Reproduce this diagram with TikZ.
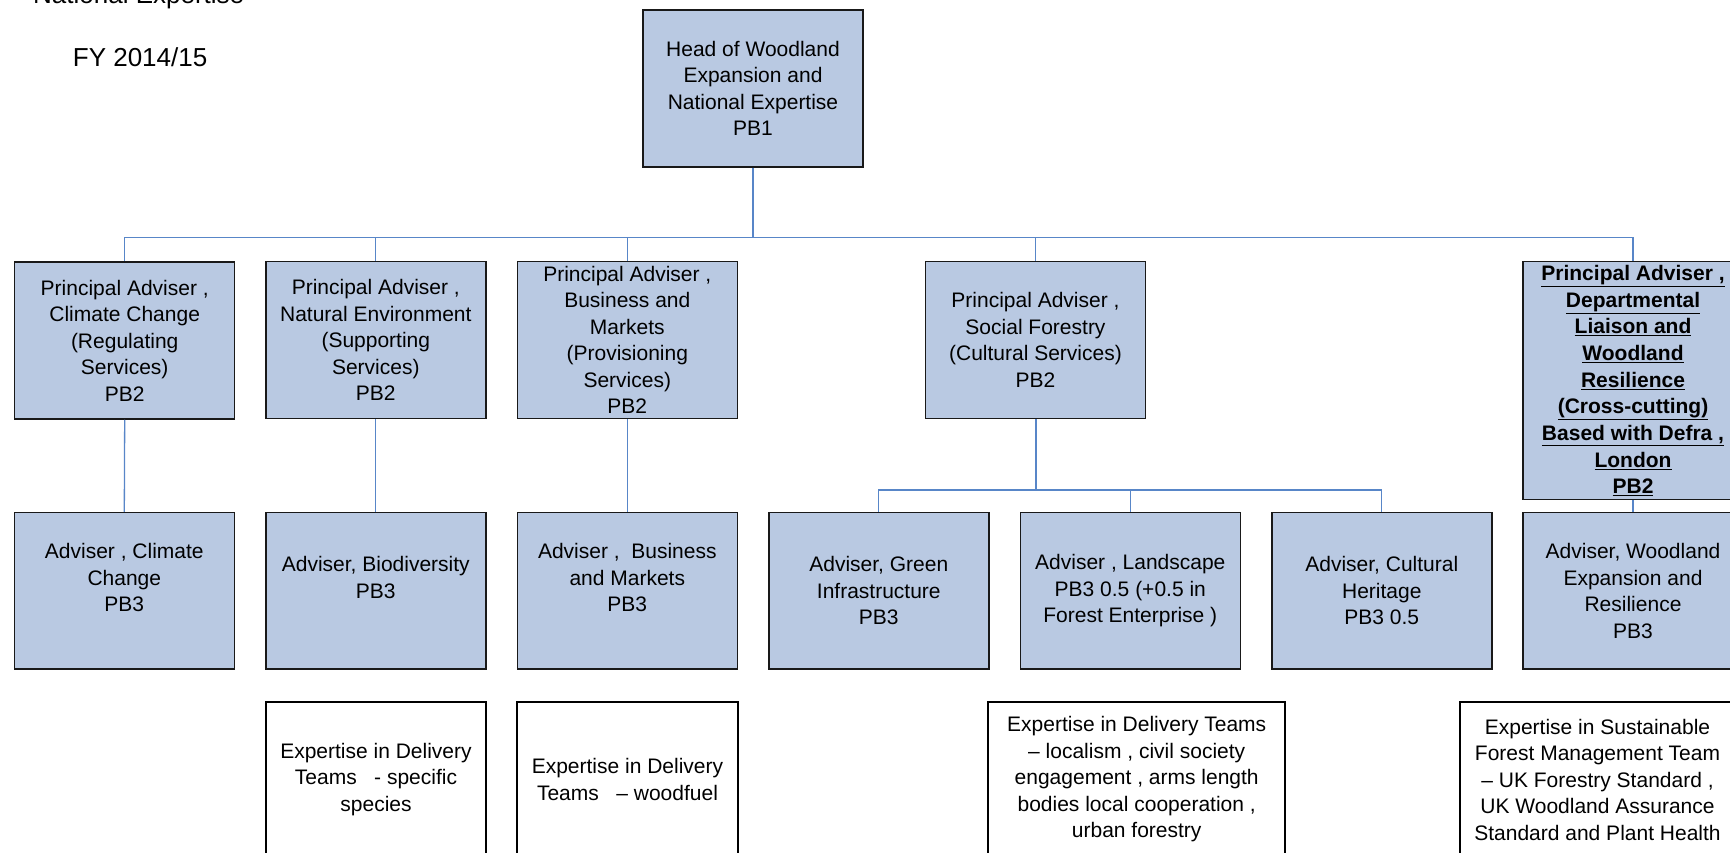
\documentclass[tikz,border=0pt]{standalone}
\usepackage{fontspec}
\setmainfont{Liberation Sans}
\begin{document}
\definecolor{boxfill}{RGB}{185,201,226}
\definecolor{linkblue}{RGB}{88,134,200}
\definecolor{edge}{RGB}{25,25,25}
\begin{tikzpicture}[x=1pt,y=-1pt,
  txt/.style={font=\fontsize{21}{26.5}\selectfont, align=center, inner sep=0pt},
  post/.style={txt, draw=edge, line width=1.5pt, fill=boxfill, minimum width=220pt, minimum height=157pt},
  team/.style={txt, draw=black, line width=2pt, fill=white, minimum height=156pt},
  link/.style={draw=linkblue, line width=1.3pt},
  trunk/.style={draw=linkblue, line width=2pt}]
\useasboundingbox (0,0) rectangle (1730,853);
\clip (0,0) rectangle (1730,853);
\fill[white] (0,0) rectangle (1730,853);

% title lines, top left
\node[anchor=base west, inner sep=0pt, font=\fontsize{26}{30}\selectfont] (ttl) at (33,4) {National Expertise};
\node[anchor=base west, inner sep=0pt, font=\fontsize{26}{30}\selectfont] (fy) at (72.7,66.7) {FY 2014/15};

% head
\node[post] (head) at (753,88.3) {Head of Woodland\\Expansion and\\National Expertise\\PB1};

% principal advisers
\node[post] (cc) at (124.7,340.5) {Principal Adviser ,\\Climate Change\\(Regulating\\Services)\\PB2};
\node[post] (ne) at (375.8,340) {Principal Adviser ,\\Natural Environment\\(Supporting\\Services)\\PB2};
\node[post] (bm) at (627.3,340) {Principal Adviser ,\\Business and\\Markets\\(Provisioning\\Services)\\PB2};
\node[post] (sf) at (1035.5,340) {Principal Adviser ,\\Social Forestry\\(Cultural Services)\\PB2};
\node[post, minimum height=237.6pt, font=\fontsize{21}{26.7}\selectfont\bfseries] (dl) at (1633,380.5)
  {\underline{Principal Adviser ,}\\\underline{Departmental}\\\underline{Liaison and}\\\underline{Woodland}\\\underline{Resilience}\\\underline{(Cross-cutting)}\\\underline{Based with Defra ,}\\\underline{London}\\\underline{PB2}};

% advisers (some carry an empty closing line)
\node[post, minimum height=156.5pt] (acc) at (124.3,590.8) {Adviser , Climate\\Change\\PB3\\\mbox{}};
\node[post, minimum height=156.5pt] (abio) at (375.8,590.8) {Adviser, Biodiversity\\PB3\\\mbox{}};
\node[post, minimum height=156.5pt] (abm) at (627.3,590.8) {Adviser ,\ \ Business\\and Markets\\PB3\\\mbox{}};
\node[post, minimum height=156.5pt] (agi) at (878.8,590.8) {Adviser, Green\\Infrastructure\\PB3};
\node[post, minimum height=156.5pt] (ala) at (1130.3,590.8) {Adviser , Landscape\\PB3 0.5 (+0.5 in\\Forest Enterprise )};
\node[post, minimum height=156.5pt] (ach) at (1381.8,590.8) {Adviser, Cultural\\Heritage\\PB3 0.5};
\node[post, minimum height=156.5pt] (awe) at (1633,590.8) {Adviser, Woodland\\Expansion and\\Resilience\\PB3};

% delivery expertise
\node[team, minimum width=220pt] (tsp) at (376,779.5) {Expertise in Delivery\\Teams \ \ - specific\\species};
\node[team, minimum width=221pt] (twf) at (627.5,779.5) {Expertise in Delivery\\Teams \ \ -- woodfuel};
\node[team, minimum width=297pt] (tloc) at (1136.7,779.5) {Expertise in Delivery Teams\\-- localism , civil society\\engagement , arms length\\bodies local cooperation ,\\urban forestry};
\node[team, minimum width=275pt] (tsfm) at (1597.5,779.5) {Expertise in Sustainable\\Forest Management Team\\ -- UK Forestry Standard ,\\UK Woodland Assurance\\Standard and Plant Health};

% reporting lines
\coordinate (bus) at (753,237.7);
\coordinate (sfbus) at (1035.5,490);
\draw[trunk] (head.south) -- (bus);
\foreach \n in {cc,ne,bm,sf,dl}
  \draw[link] (bus) -- (bus -| \n.north) -- (\n.north);
\draw[link] (cc.south) -- (acc.north);
\draw[link] (ne.south) -- (abio.north);
\draw[link] (bm.south) -- (abm.north);
\draw[link] (dl.south) -- (awe.north);
\draw[trunk] (sf.south) -- (sfbus);
\foreach \n in {agi,ala,ach}
  \draw[link] (sfbus) -- (sfbus -| \n.north) -- (\n.north);
\end{tikzpicture}
\end{document}
